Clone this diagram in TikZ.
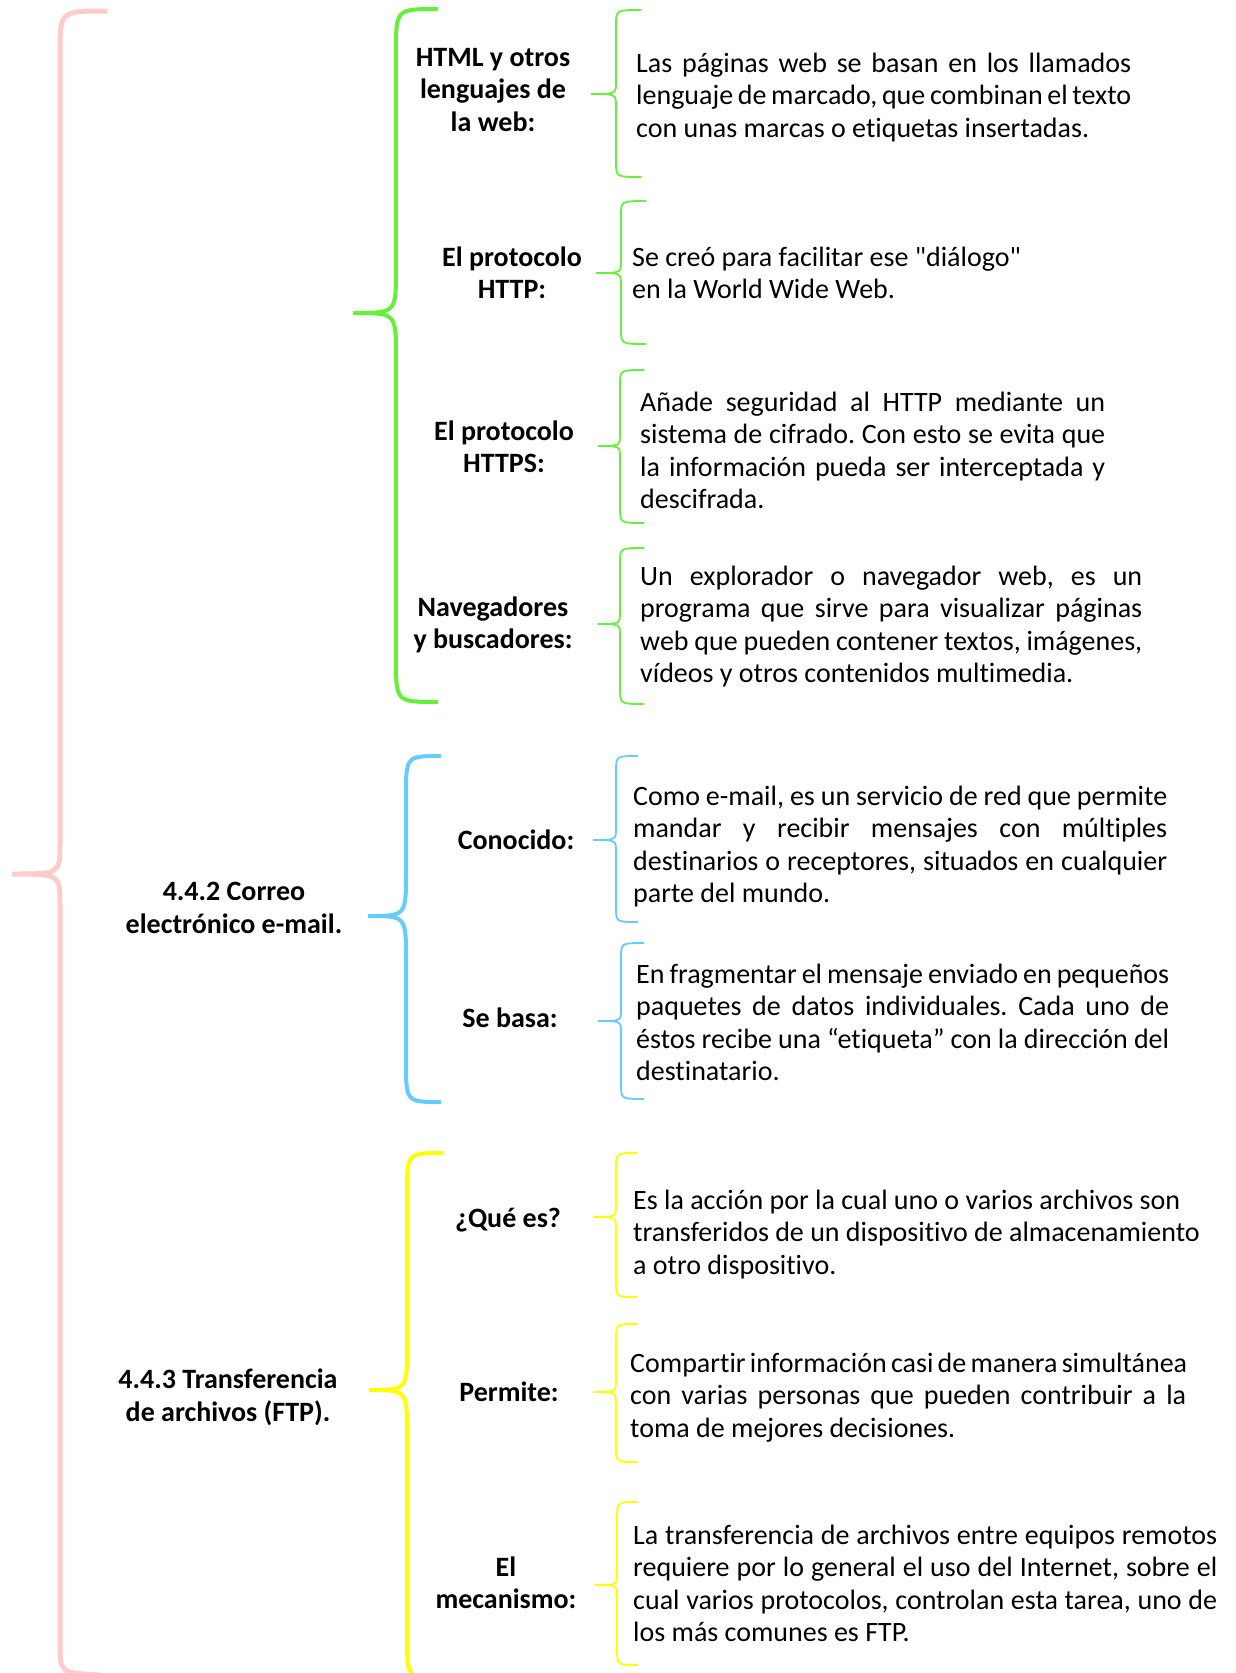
\documentclass[tikz,border=0pt]{standalone}
\usepackage{fontspec}
\setmainfont{Carlito}[Ligatures=NoCommon]
\newfontfamily\qfont{Carlito}
\definecolor{cpink}{HTML}{FFCCCC}
\definecolor{cgreen}{HTML}{66F03C}
\definecolor{cblue}{HTML}{66CCFF}
\definecolor{cyellow}{HTML}{FFFF00}
\newcommand\jl[2]{\makebox[#1pt][s]{#2}}
\newcommand\sq{{\qfont"}}
% #1 style, #2 vx, #3 endX, #4 topY, #5 tipX, #6 tipY, #7 botY, #8 rEnd, #9 rTip
\newcommand\mybrace[9]{%
  \draw[#1] (#3,#4) .. controls (#2,#4) .. (#2,#4+#8) -- (#2,#6-#9)
    .. controls (#2,#6) .. (#5,#6) .. controls (#2,#6) .. (#2,#6+#9)
    -- (#2,#7-#8) .. controls (#2,#7) .. (#3,#7);}
\begin{document}
\begin{tikzpicture}[x=1pt,y=-1pt,
  bigbrace/.style={line width=4pt},
  smallbrace/.style={line width=1.8pt},
  desc/.style={anchor=north west, inner sep=0pt, align=left,
    font=\fontsize{28}{32.5}\selectfont\frenchspacing},
  lbl/.style={anchor=north, inner sep=0pt, align=center,
    font=\fontsize{28}{32.5}\selectfont\bfseries\frenchspacing}]
\useasboundingbox (0,0) rectangle (1235,1673);
\clip (0,0) rectangle (1235,1673);
\fill[white] (0,0) rectangle (1235,1673);

% main pink brace
\draw[cpink, line width=5pt] (107,11) .. controls (60,11) .. (60,53) -- (60,843)
  .. controls (60,874) .. (12,874) .. controls (60,874) .. (60,905)
  -- (60,1643) .. controls (60,1673) .. (100,1675);

% level-2 braces
\mybrace{cgreen,bigbrace}{396}{438}{9}{353}{313}{702}{42}{43}
\mybrace{cblue,bigbrace}{406}{441}{756}{368}{916}{1102}{40}{43}
\mybrace{cyellow,bigbrace}{407}{443}{1153}{369}{1390}{1678}{40}{43}

% level-3 braces
\mybrace{cgreen,smallbrace}{616}{641}{10}{591}{94}{177}{15}{12}
\mybrace{cgreen,smallbrace}{621}{646}{201}{596}{273}{344}{15}{12}
\mybrace{cgreen,smallbrace}{620}{644}{370}{598}{446}{523}{15}{12}
\mybrace{cgreen,smallbrace}{620}{644}{548}{598}{624}{704}{15}{12}
\mybrace{cblue,smallbrace}{616}{638}{756}{593}{840}{922}{15}{12}
\mybrace{cblue,smallbrace}{621}{644}{943}{598}{1021}{1099}{15}{12}
\mybrace{cyellow,smallbrace}{616}{637}{1153}{593}{1217}{1297}{15}{12}
\mybrace{cyellow,smallbrace}{616}{637}{1324}{593}{1392}{1462}{15}{12}
\mybrace{cyellow,smallbrace}{617}{638}{1502}{595}{1585}{1665}{15}{12}

% level-2 labels
\node[lbl] (email) at (234,878) {\strut 4.4.2 Correo\\electrónico e-mail.};
\node[lbl] (ftp) at (228,1366) {\strut 4.4.3 Transferencia\\de archivos (FTP).};

% level-3 labels
\node[lbl] (html) at (493,43.2) {\strut HTML y otros\\lenguajes de\\la web:};
\node[lbl] (http) at (512,243.2) {\strut El protocolo\\HTTP:};
\node[lbl] (https) at (504,417.2) {\strut El protocolo\\HTTPS:};
\node[lbl] (nav) at (493,593.2) {\strut Navegadores\\y buscadores:};
\node[lbl] (cono) at (516,826.2) {\strut Conocido:};
\node[lbl] (basa) at (510,1004.2) {\strut Se basa:};
\node[lbl] (que) at (508,1204.2) {\strut ¿Qué es?};
\node[lbl] (perm) at (509,1378.2) {\strut Permite:};
\node[lbl] (meca) at (506,1553.2) {\strut El\\mecanismo:};

% descriptions
\node[desc] (d1) at (636,49.2) {\strut\jl{495}{Las páginas web se basan en los llamados}\\
  \jl{495}{lenguaje de marcado, que combinan el texto}\\
  con unas marcas o etiquetas insertadas.};
\node[desc] (d2) at (632,243.2) {\strut Se creó para facilitar ese \sq diálogo\sq\\
  en la World Wide Web.};
\node[desc] (d3) at (640,388.2) {\strut\jl{465}{Añade seguridad al HTTP mediante un}\\
  \jl{465}{sistema de cifrado. Con esto se evita que}\\
  \jl{465}{la información pueda ser interceptada y}\\
  descifrada.};
\node[desc] (d4) at (640,562.2) {\strut\jl{502}{Un explorador o navegador web, es un}\\
  \jl{502}{programa que sirve para visualizar páginas}\\
  \jl{502}{web que pueden contener textos, imágenes,}\\
  vídeos y otros contenidos multimedia.};
\node[desc] (d5) at (633,782.2) {\strut\jl{534}{Como e-mail, es un servicio de red que permite}\\
  \jl{534}{mandar y recibir mensajes con múltiples}\\
  \jl{534}{destinarios o receptores, situados en cualquier}\\
  parte del mundo.};
\node[desc] (d6) at (636,960.2) {\strut\jl{533}{En fragmentar el mensaje enviado en pequeños}\\
  \jl{533}{paquetes de datos individuales. Cada uno de}\\
  \jl{533}{éstos recibe una “etiqueta” con la dirección del}\\
  destinatario.};
\node[desc] (d7) at (633,1186.2) {\strut Es la acción por la cual uno o varios archivos son\\
  transferidos de un dispositivo de almacenamiento\\
  a otro dispositivo.};
\node[desc] (d8) at (630,1349.2) {\strut\jl{556}{Compartir información casi de manera simultánea}\\
  \jl{556}{con varias personas que pueden contribuir a la}\\
  toma de mejores decisiones.};
\node[desc] (d9) at (633,1521.2) {\strut\jl{584}{La transferencia de archivos entre equipos remotos}\\
  \jl{584}{requiere por lo general el uso del Internet, sobre el}\\
  \jl{584}{cual varios protocolos, controlan esta tarea, uno de}\\
  los más comunes es FTP.};
\end{tikzpicture}
\end{document}
